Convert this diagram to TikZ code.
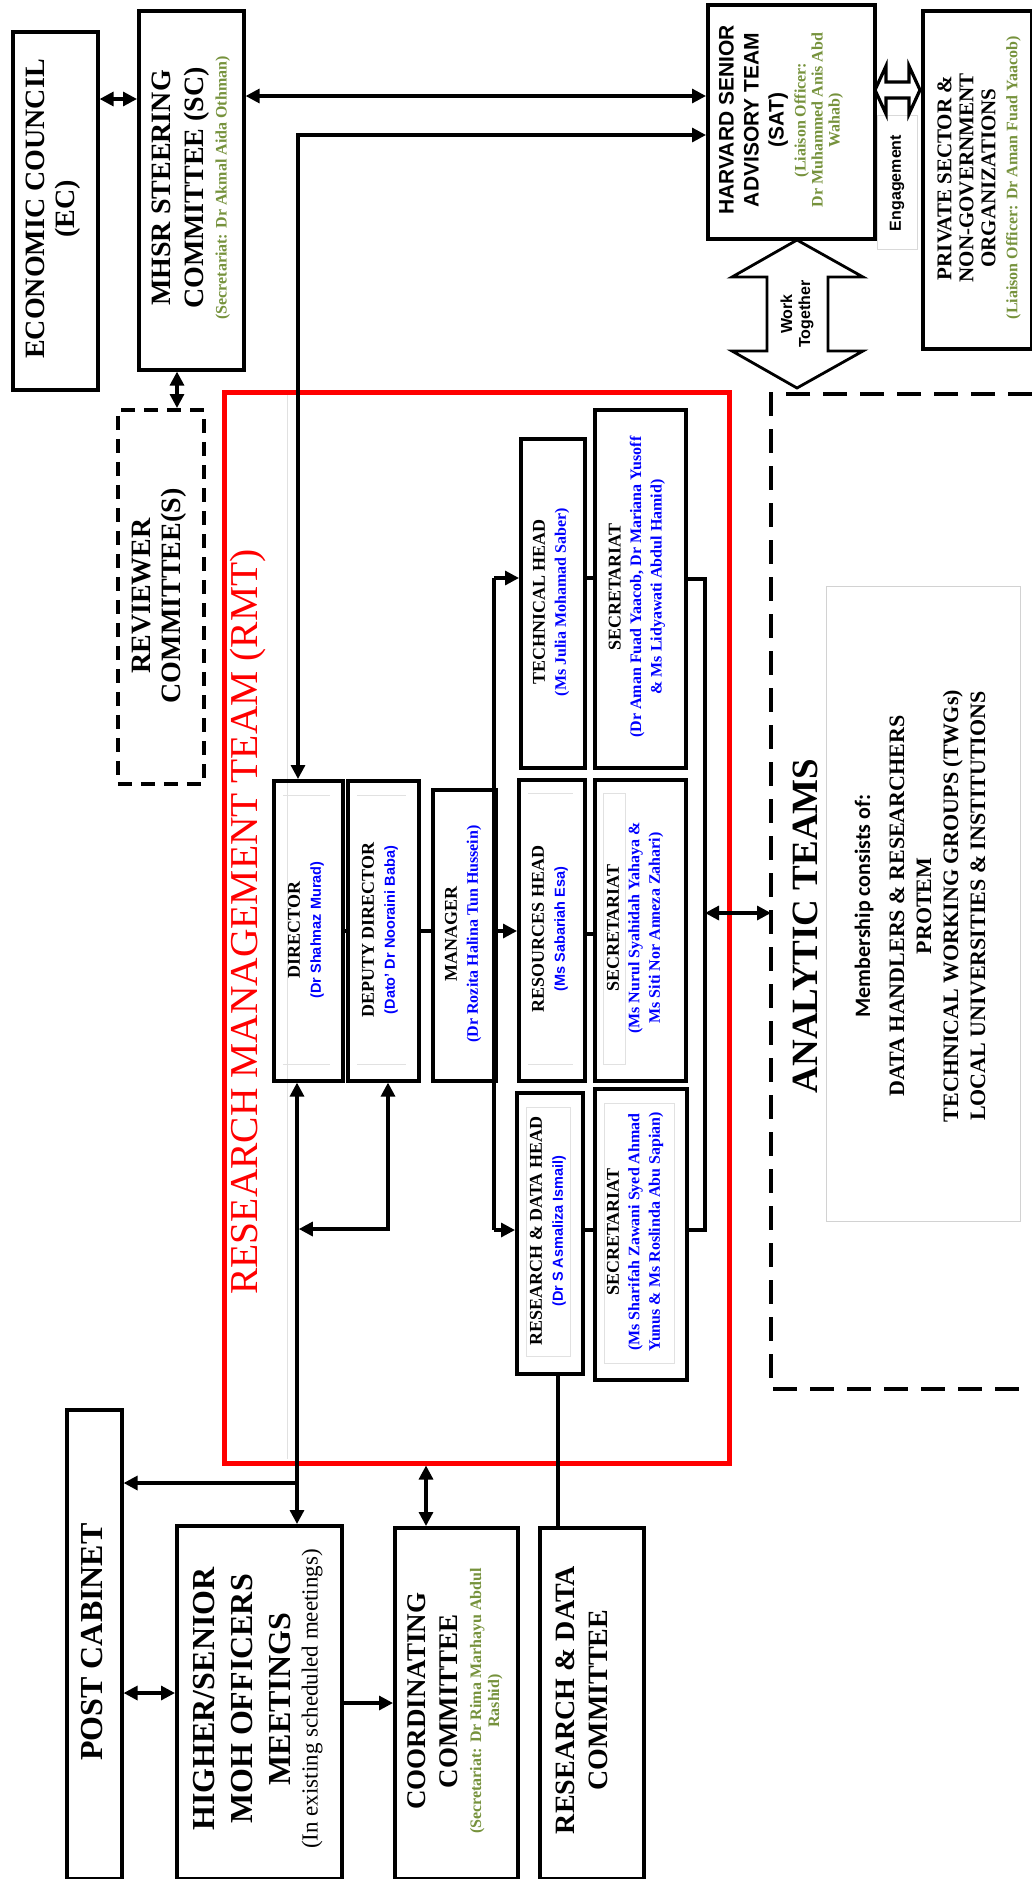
\documentclass[tikz,border=0pt]{standalone}
\usepackage{fontspec}
\setmainfont{Liberation Serif}
\setsansfont{Liberation Sans}
\newfontfamily\calib{Carlito}
\usetikzlibrary{arrows.meta}
\definecolor{olivegreen}{RGB}{118,146,60}
\definecolor{pureblue}{RGB}{0,0,255}
\definecolor{purered}{RGB}{255,0,0}
\definecolor{faint}{RGB}{225,225,225}
\newcommand\sz[2]{\fontsize{#1}{#2}\selectfont}
\newcommand\bls[1]{{\color{pureblue}\sz{16}{19}#1}}
\newcommand\blsf[1]{{\color{pureblue}\sffamily\sz{14.5}{17}#1}}
\newcommand\grn[1]{{\color{olivegreen}\sz{16}{19}#1}}
\begin{document}
\begin{tikzpicture}[x=1pt,y=-1pt,
  >={Triangle[length=14pt,width=14pt]},
  box/.style={draw, line width=3.6pt, inner sep=0pt, anchor=north west},
  conn/.style={line width=3.2pt},
  fnt/.style={draw=faint, line width=0.9pt},
  lbl/.style={rotate=90, align=center, inner sep=0pt},
  ttl/.style={lbl, font=\bfseries\sz{18}{21}},
  bigttl/.style={lbl, font=\bfseries\sz{28}{33}}
]
\fill[white] (0,0) rectangle (1032,1879);
\useasboundingbox (0,0) rectangle (1032,1879);

% faint guide line inside the RMT frame
\draw[fnt] (287,392) -- (287,1459);

% ---------- boxes ----------
\node[box, minimum width=85pt, minimum height=358pt] (ec) at (11,30) {};
\node[box, minimum width=105pt, minimum height=359pt] (sc) at (137,9) {};
\node[box, dash pattern=on 14pt off 9pt, minimum width=86pt, minimum height=374pt] (rev) at (116,408) {};
\node[box, minimum width=167pt, minimum height=234pt] (sat) at (706,3) {};
\node[box, minimum width=109pt, minimum height=338pt] (priv) at (921,9) {};
\node[draw=gray!30, line width=0.8pt, inner sep=0pt, anchor=north west, minimum width=40pt, minimum height=134pt] (eng) at (877,115) {};
\node[draw=purered, line width=4.5pt, inner sep=0pt, anchor=north west, minimum width=505pt, minimum height=1071pt] (rmt) at (222,390) {};
\node[box, minimum width=69pt, minimum height=300pt] (dir) at (272,779) {};
\node[box, minimum width=71pt, minimum height=300pt] (dep) at (346,779) {};
\node[box, minimum width=63pt, minimum height=291pt] (man) at (431,788) {};
\node[box, minimum width=64pt, minimum height=329pt] (tech) at (519,437) {};
\node[box, minimum width=91pt, minimum height=358pt] (sec1) at (593,408) {};
\node[box, minimum width=66pt, minimum height=301pt] (res) at (517,778) {};
\node[box, minimum width=91pt, minimum height=301pt] (sec2) at (593,778) {};
\node[box, minimum width=66pt, minimum height=281pt] (rdh) at (515,1091) {};
\node[box, minimum width=92pt, minimum height=291pt] (sec3) at (593,1087) {};
\node[box, minimum width=55pt, minimum height=469pt] (post) at (65,1408) {};
\node[box, minimum width=165pt, minimum height=353pt] (high) at (175,1524) {};
\node[box, minimum width=123pt, minimum height=351pt] (coord) at (393,1526) {};
\node[box, minimum width=104pt, minimum height=351pt] (rdc) at (538,1526) {};
\node[draw=gray!35, line width=0.8pt, inner sep=0pt, anchor=north west, minimum width=194pt, minimum height=635pt] (memb) at (826,586) {};

% faint text frames inside the small boxes
\draw[fnt] (283,795) -- (330,795) (283,1064) -- (330,1064);
\draw[fnt] (357,795) -- (406,795) (357,1064) -- (406,1064);
\draw[fnt] (528,793) -- (573,793) (528,1064) -- (573,1064);
\draw[fnt] (528,793) -- (573,793);
\draw[fnt] (603,793) rectangle (625,1064);
\draw[fnt] (526,1107) rectangle (570,1356);
\draw[fnt] (604,1103) rectangle (674,1363);

% analytic teams dashed frame (open to the right)
\draw[line width=3.6pt, dash pattern=on 24pt off 13pt] (1032,394) -- (771,394) -- (771,1389) -- (1032,1389);
\coordinate (anl) at (771,913);

% ---------- hollow double arrows ----------
\draw[line width=2.8pt, fill=white, line join=miter]
  (797,240) -- (863,277) -- (828,277) -- (828,351) -- (863,351) -- (797,388)
  -- (732,351) -- (767,351) -- (767,277) -- (732,277) -- cycle;
\draw[line width=3.2pt, fill=white, line join=miter]
  (875,90) -- (886,66) -- (886,82) -- (909,82) -- (909,66) -- (920,90)
  -- (909,114) -- (909,98) -- (886,98) -- (886,114) -- cycle;

% ---------- connectors ----------
\draw[conn,<->] (ec.east |- 0,99) -- (sc.west |- 0,99);
\draw[conn,<->] (sc.east |- 0,96) -- (sat.west |- 0,96);
\draw[conn,<->] (sat.west |- 0,135) -- (298,135) -- (dir.north -| 298,0);
\draw[conn,<->] (sc.south -| 177,0) -- (rev.north -| 177,0);

\draw[conn] (494,578) -- (494,1230);
\draw[conn,->] (494,578) -- (tech.west |- 0,578);
\draw[conn,->] (494,931) -- (res.west |- 0,931);
\draw[conn,->] (494,1230) -- (rdh.west |- 0,1230);
\draw[conn] (dir.east |- 0,931) -- (dep.west |- 0,931);
\draw[conn] (dep.east |- 0,931) -- (man.west |- 0,931);
\draw[conn] (tech.east |- 0,578) -- (sec1.west |- 0,578);
\draw[conn] (res.east |- 0,934) -- (sec2.west |- 0,934);
\draw[conn] (rdh.east |- 0,1230) -- (sec3.west |- 0,1230);
\draw[conn] (sec1.east |- 0,579) -- (705,579) -- (705,1230) -- (sec3.east |- 0,1230);
\draw[conn,<->] (705,913) -- (anl);

\draw[conn,<->] (dir.south -| 297,0) -- (high.north -| 297,0);
\draw[conn,<->] (dep.south -| 388,0) -- (388,1229) -- (298.8,1229);
\draw[conn,->] (297,1483) -- (post.east |- 0,1483);
\draw[conn,<->] (post.east |- 0,1693) -- (high.west |- 0,1693);
\draw[conn,->] (high.east |- 0,1703) -- (coord.west |- 0,1703);
\draw[conn,<->] (rmt.south -| 426,0) -- (coord.north -| 426,0);
\draw[conn] (rdh.south -| 558,0) -- (rdc.north -| 558,0);

% ---------- texts ----------
\node[lbl, font=\bfseries\sz{28}{30}] (ec-t) at (53.5,209) {ECONOMIC COUNCIL\\(EC)};
\node[bigttl] (sc-t) at (191,188) {MHSR STEERING\\COMMITTEE (SC)\\[-10pt]\grn{(Secretariat: Dr Akmal Aida Othman)}};
\node[lbl, font=\bfseries\sz{28}{30}] (rev-t) at (159,596) {REVIEWER\\COMMITTEE(S)};
\node[lbl, font=\sffamily\bfseries\sz{21}{25}] (sat-t) at (781,120) {HARVARD SENIOR\\ADVISORY TEAM\\(SAT)\\[-3pt]{\rmfamily\grn{(Liaison Officer:}}\\[-8pt]{\rmfamily\grn{Dr Muhammed Anis Abd}}\\[-8pt]{\rmfamily\grn{Wahab)}}};
\node[lbl, font=\bfseries\sz{21}{22}] (priv-t) at (979,178) {PRIVATE SECTOR \&\\NON-GOVERNMENT\\ORGANIZATIONS\\\grn{(Liaison Officer: Dr Aman Fuad Yaacob)}};
\node[lbl, font=\sffamily\bfseries\sz{16}{18}] (eng-t) at (897,183) {Engagement};
\node[lbl, font=\sffamily\bfseries\sz{16}{18}] (wt-t) at (797,314) {Work\\Together};

\node[lbl, font=\sz{39.5}{45}, text=purered] (rmt-t) at (248,922) {RESEARCH MANAGEMENT TEAM (RMT)};

\node[ttl] (dir-t) at (306,930) {DIRECTOR\\\blsf{(Dr Shahnaz Murad)}};
\node[ttl] (dep-t) at (380,930) {DEPUTY DIRECTOR\\\blsf{(Dato’ Dr Nooraini Baba)}};
\node[ttl] (man-t) at (463,934) {MANAGER\\\bls{(Dr Rozita Halina Tun Hussein)}};
\node[ttl] (tech-t) at (551,602) {TECHNICAL HEAD\\\bls{(Ms Julia Mohamad Saber)}};
\node[ttl, font=\bfseries\sz{18}{20.5}] (sec1-t) at (637,587) {SECRETARIAT\\\bls{(Dr Aman Fuad Yaacob, Dr Mariana Yusoff}\\\bls{\& Ms Lidyawati Abdul Hamid)}};
\node[ttl] (res-t) at (550,929) {RESOURCES HEAD\\\blsf{(Ms Sabariah Esa)}};
\node[ttl, font=\bfseries\sz{18}{20.5}] (sec2-t) at (635,928) {SECRETARIAT\\\bls{(Ms Nurul Syahidah Yahaya \&}\\\bls{Ms Siti Nor Anneza Zahari)}};
\node[ttl] (rdh-t) at (548,1231) {RESEARCH \& DATA HEAD\\\blsf{(Dr S Asmaliza Ismail)}};
\node[ttl, font=\bfseries\sz{18}{20.5}] (sec3-t) at (635,1232) {SECRETARIAT\\\bls{(Ms Sharifah Zawani Syed Ahmad}\\\bls{Yunus \& Ms Roslinda Abu Sapian)}};

\node[lbl, font=\bfseries\sz{32}{38}] (post-t) at (92.5,1642) {POST CABINET};
\node[lbl, font=\bfseries\sz{32}{38}] (high-t) at (258,1699) {HIGHER/SENIOR\\MOH OFFICERS\\MEETINGS\\[-11pt]{\mdseries\sz{23}{27}(In existing scheduled meetings)}};
\node[lbl, font=\bfseries\sz{27}{32}] (coord-t) at (455,1701) {COORDINATING\\COMMITTEE\\[-8pt]\grn{(Secretariat: Dr Rima Marhayu Abdul}\\[-14pt]\grn{Rashid)}};
\node[lbl, font=\bfseries\sz{28}{33}] (rdc-t) at (582,1700) {RESEARCH \& DATA\\COMMITTEE};

\node[lbl, font=\bfseries\sz{37}{42}] (an-t) at (805,926) {ANALYTIC TEAMS};
\node[lbl, font=\bfseries\sz{22}{27}] (memb-t) at (920,906) {{\calib\bfseries Membership consists of:}\\[7pt]DATA HANDLERS \& RESEARCHERS\\PROTEM\\TECHNICAL WORKING GROUPS (TWGs)\\LOCAL UNIVERSITIES \& INSTITUTIONS};
\end{tikzpicture}
\end{document}
